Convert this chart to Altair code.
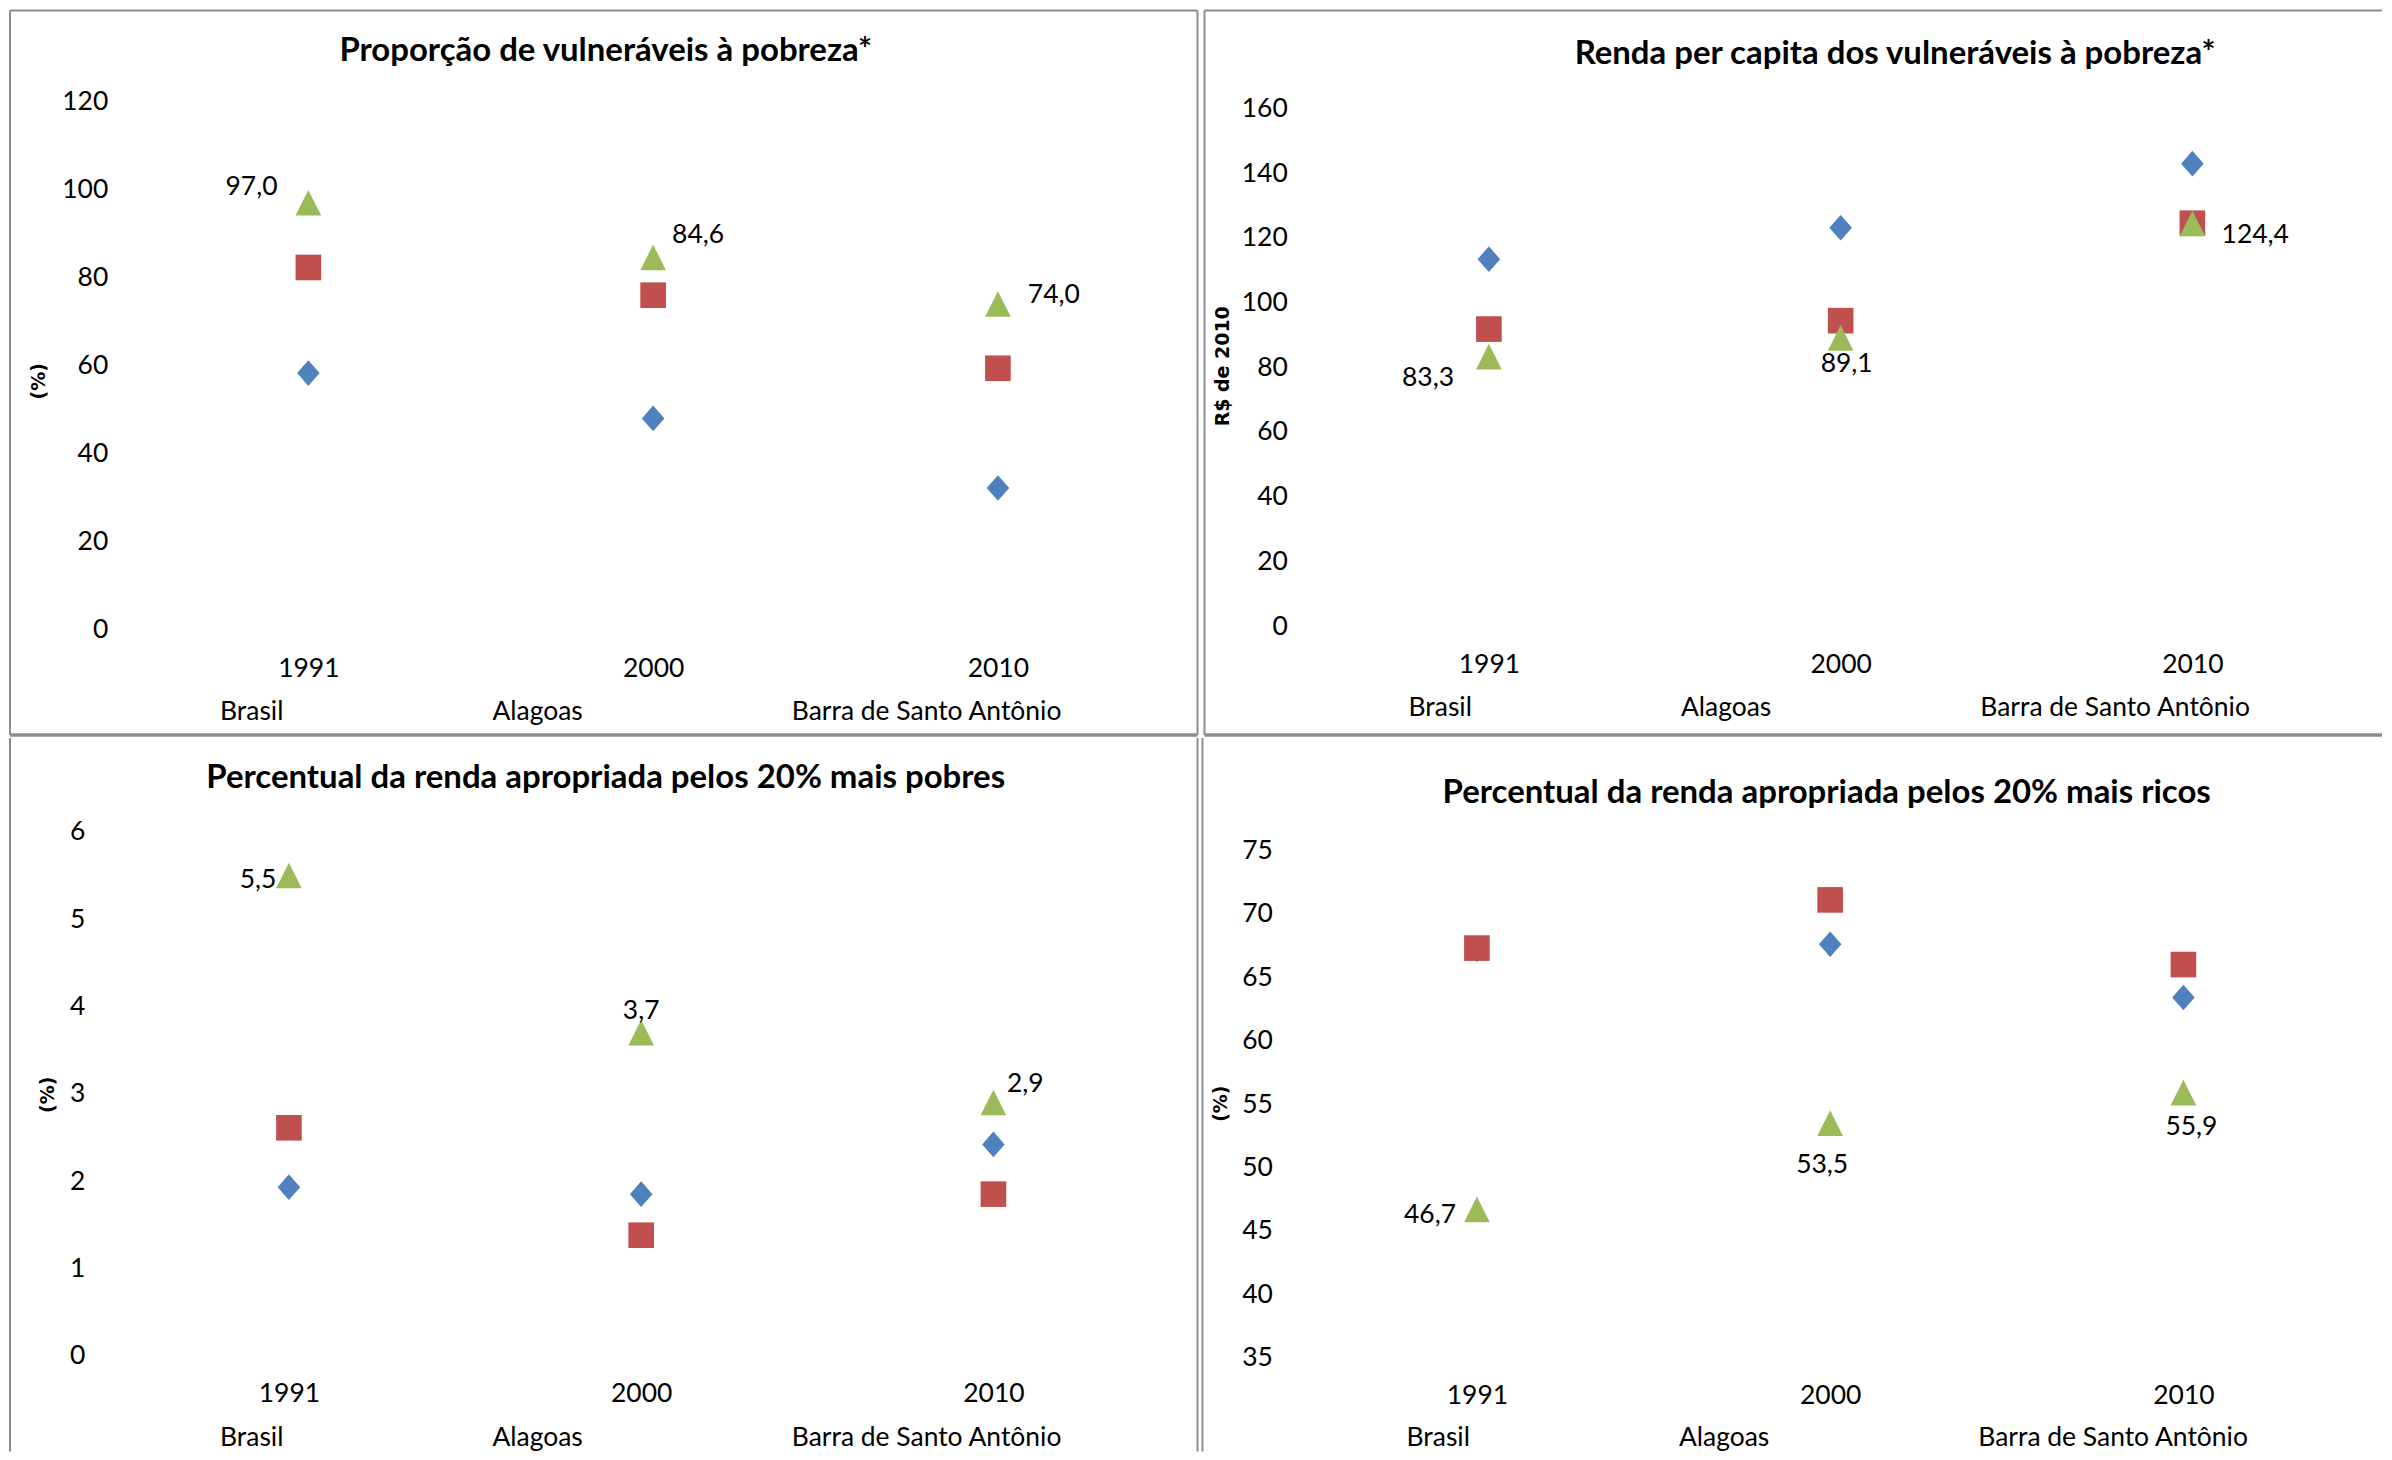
import altair as alt
import pandas as pd

# ---------------- data ----------------
anos = ["1991", "2000", "2010"]
series = ["Brasil", "Alagoas", "Barra de Santo Antônio"]

vulneraveis_brasil = [58.3, 48.0, 32.2]
vulneraveis_alagoas = [82.3, 76.0, 59.4]
vulneraveis_barra = [97.0, 84.6, 74.0]

renda_brasil = [113.4, 123.1, 142.9]
renda_alagoas = [91.8, 94.4, 124.5]
renda_barra = [83.3, 89.1, 124.4]

pobres_brasil = [1.93, 1.85, 2.42]
pobres_alagoas = [2.61, 1.38, 1.85]
pobres_barra = [5.5, 3.7, 2.9]

ricos_brasil = [67.2, 67.6, 63.4]
ricos_alagoas = [67.3, 71.1, 66.0]
ricos_barra = [46.7, 53.5, 55.9]

titulos = [
    "Proporção de vulneráveis à pobreza*",
    "Renda per capita dos vulneráveis à pobreza*",
    "Percentual da renda apropriada pelos 20% mais pobres",
    "Percentual da renda apropriada pelos 20% mais ricos",
]
titulos_eixo_y = ["(%)", "R$ de 2010", "(%)", "(%)"]

ticks_vulneraveis = [0, 20, 40, 60, 80, 100, 120]
ticks_renda = [0, 20, 40, 60, 80, 100, 120, 140, 160]
ticks_pobres = [0, 1, 2, 3, 4, 5, 6]
ticks_ricos = [35, 40, 45, 50, 55, 60, 65, 70, 75]

# ---------------- style ----------------
CORES = ["#4F81BD", "#C0504D", "#9BBB59"]
FORMAS = ["M0,-1L0.88,0L0,1L-0.88,0Z", "M-1,-1L1,-1L1,1L-1,1Z", "M0,-1L1,1L-1,1Z"]
FONT = "Lato"
FS = 26.5
BORDA = "#8c8c8c"

LAYOUTS = [
    dict(w=1190, h=726, x0=299, x1=990, y0=620.5, y1=91.2, yoff=-100, xoff=-67,
         ytx=-71, yty=371, lx=184, ly=690, tdx=2, ty=75,
         labels=[(-57, -16), (45, -22), (56, -9)],
         bordas=["left", "top", "right", "bottom"]),
    dict(w=1180, h=726, x0=285, x1=990, y0=617, y1=98, yoff=-85, xoff=-71,
         ytx=-67, yty=356, lx=178, ly=686, tdx=102, ty=78,
         labels=[(-61, 21), (6, 26), (63, 11)],
         bordas=["left", "top", "bottom"]),
    dict(w=1190, h=715, x0=279.5, x1=985.5, y0=619, y1=94, yoff=-77, xoff=-58,
         ytx=-39, yty=357, lx=184, ly=688, tdx=2, ty=74,
         labels=[(-31, 5), (0, -22), (32, -18)],
         bordas=["left", "right"]),
    dict(w=1180, h=715, x0=275, x1=983, y0=621, y1=112.7, yoff=-72, xoff=-56,
         ytx=-54, yty=366, lx=178, ly=688, tdx=35.5, ty=89,
         labels=[(-47, 6), (-8, 42), (8, 34)],
         bordas=["left"]),
]


def bordas(lay):
    fonte = alt.Chart(pd.DataFrame({"borda": [0]}))
    w, h = lay["w"], lay["h"]
    enc = {
        "left": dict(x=alt.value(0), y=alt.value(0), y2=alt.value(h)),
        "top": dict(x=alt.value(0), x2=alt.value(w), y=alt.value(0)),
        "right": dict(x=alt.value(w), y=alt.value(0), y2=alt.value(h)),
        "bottom": dict(x=alt.value(0), x2=alt.value(w), y=alt.value(h)),
    }
    largura = {"left": 2, "top": 2, "right": 2, "bottom": 3.5}
    return [
        fonte.mark_rule(color=BORDA, strokeWidth=largura[lado]).encode(**enc[lado])
        for lado in lay["bordas"]
    ]


def painel(valores, titulo, titulo_y, ticks, lay):
    linhas = []
    for s, vals in zip(series, valores):
        for a, v in zip(anos, vals):
            linhas.append({"ano": a, "serie": s, "valor": v})
    df = pd.DataFrame(linhas)
    base = alt.Chart(df)

    x_enc = alt.X(
        "ano:O",
        sort=anos,
        scale=alt.Scale(type="point", domain=anos, range=[lay["x0"], lay["x1"]], padding=0),
        axis=alt.Axis(
            title=None, orient="bottom", offset=lay["xoff"], domain=False, ticks=False,
            tickSize=0, grid=False, labelAngle=0, labelPadding=0, labelBaseline="middle",
            labelFont=FONT, labelFontSize=FS, labelColor="black",
        ),
    )
    y_enc = alt.Y(
        "valor:Q",
        scale=alt.Scale(domain=[ticks[0], ticks[-1]], range=[lay["y0"], lay["y1"]],
                        zero=False, nice=False),
        axis=alt.Axis(
            title=titulo_y, values=ticks, orient="left", offset=lay["yoff"], domain=False,
            ticks=False, tickSize=0, grid=False, labelPadding=2,
            labelFont=FONT, labelFontSize=FS, labelColor="black",
            titleFont="DejaVu Sans", titleFontSize=19, titleFontWeight="bold",
            titleColor="black", titleX=lay["ytx"], titleY=lay["yty"],
            titleBaseline="middle", titleAngle=270,
        ),
    )

    pontos = base.mark_point(filled=True, size=660, opacity=1).encode(
        x=x_enc,
        y=y_enc,
        color=alt.Color(
            "serie:N",
            scale=alt.Scale(domain=series, range=CORES),
            legend=alt.Legend(
                title=None, orient="none", legendX=lay["lx"], legendY=lay["ly"],
                direction="horizontal", symbolSize=0, symbolOpacity=0,
                symbolStrokeWidth=0, labelOffset=0, columnPadding=182, padding=0,
                labelLimit=600, labelFont=FONT, labelFontSize=FS, labelColor="black",
            ),
        ),
        shape=alt.Shape("serie:N", scale=alt.Scale(domain=series, range=FORMAS), legend=None),
    )

    camadas = bordas(lay) + [pontos]
    rot = base.transform_filter(alt.datum.serie == series[2]).transform_calculate(
        rotulo="replace(format(datum.valor, '.1f'), '.', ',')"
    )
    for a, (dx, dy) in zip(anos, lay["labels"]):
        camadas.append(
            rot.transform_filter(alt.datum.ano == a)
            .mark_text(dx=dx, dy=dy, font=FONT, fontSize=FS, color="black")
            .encode(x=x_enc, y=y_enc, text="rotulo:N")
        )

    return alt.layer(*camadas).properties(
        width=lay["w"],
        height=lay["h"],
        title=alt.TitleParams(
            text=titulo, font=FONT, fontSize=33, fontWeight="bold", color="black",
            anchor="middle", baseline="middle", offset=-lay["ty"], dx=lay["tdx"],
        ),
    )


p1 = painel([vulneraveis_brasil, vulneraveis_alagoas, vulneraveis_barra], titulos[0],
            titulos_eixo_y[0], ticks_vulneraveis, LAYOUTS[0])
p2 = painel([renda_brasil, renda_alagoas, renda_barra], titulos[1],
            titulos_eixo_y[1], ticks_renda, LAYOUTS[1])
p3 = painel([pobres_brasil, pobres_alagoas, pobres_barra], titulos[2],
            titulos_eixo_y[2], ticks_pobres, LAYOUTS[2])
p4 = painel([ricos_brasil, ricos_alagoas, ricos_barra], titulos[3],
            titulos_eixo_y[3], ticks_ricos, LAYOUTS[3])


def linha(a, b):
    return (
        alt.hconcat(a, b, spacing=3)
        .resolve_scale(x="independent", y="independent", color="independent", shape="independent")
        .resolve_legend(color="independent", shape="independent")
    )


chart = (
    alt.vconcat(linha(p1, p2), linha(p3, p4), spacing=0)
    .resolve_scale(x="independent", y="independent", color="independent", shape="independent")
    .resolve_legend(color="independent", shape="independent")
    .properties(padding={"left": 0, "top": 0, "right": 0, "bottom": 0}, background="white")
    .configure_view(strokeWidth=0)
)

chart.save("out.html", embed_options={"renderer": "svg", "actions": False})
